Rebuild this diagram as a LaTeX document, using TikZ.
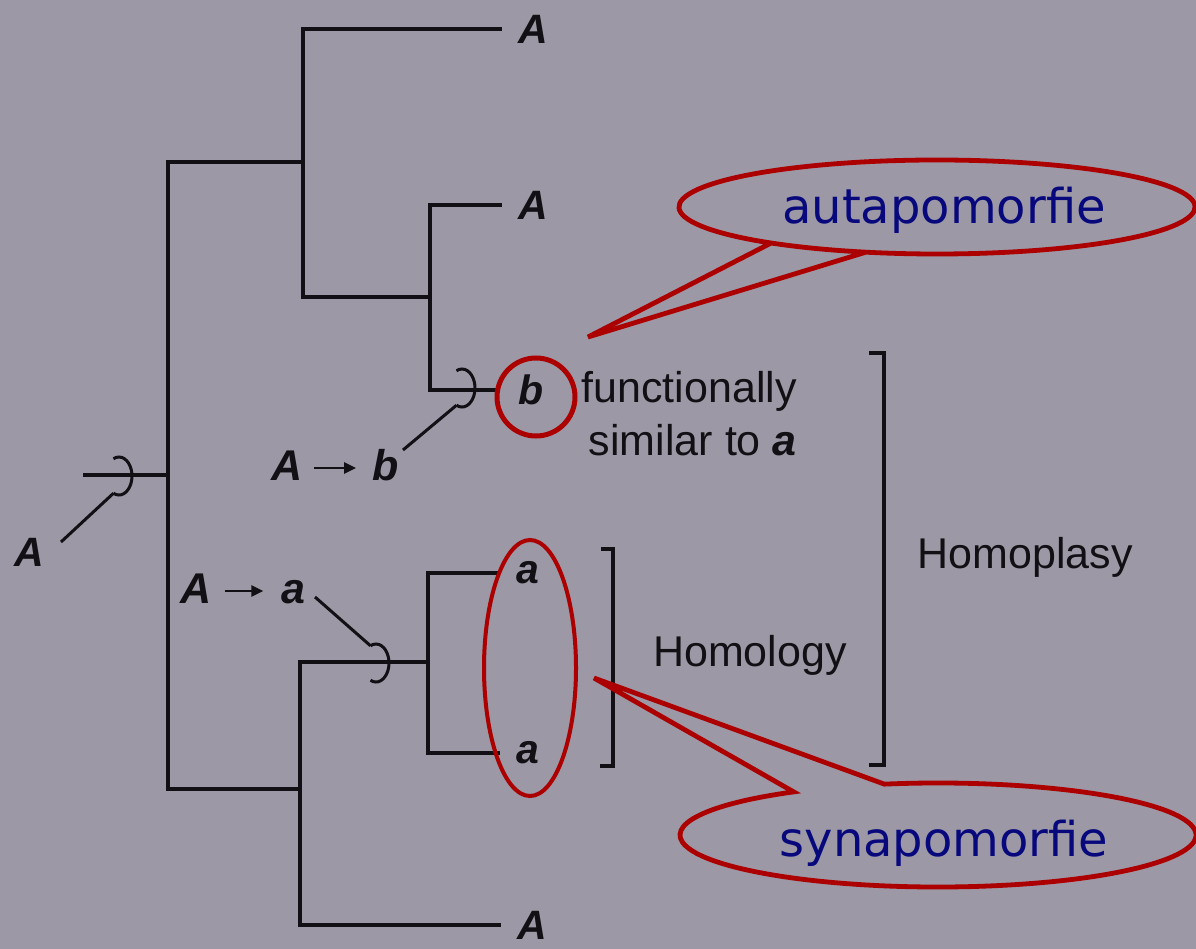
\documentclass[tikz,border=0pt]{standalone}
\usepackage{fontspec}
\setmainfont{Liberation Sans}
\newfontfamily\CallFont{DejaVu Sans}
\usetikzlibrary{calc,shapes.geometric,arrows.meta}
\definecolor{bgc}{RGB}{156,152,165}
\definecolor{ink}{RGB}{18,16,20}
\definecolor{callred}{RGB}{172,0,0}
\definecolor{navy}{RGB}{8,8,125}
\newcommand{\LeafFont}{\fontsize{41}{48}\selectfont\bfseries\itshape}
\newcommand{\LblFont}{\fontsize{43}{53}\selectfont}
\newcommand{\BI}[1]{{\bfseries\itshape #1}}
\begin{document}
\begin{tikzpicture}[x=1pt,y=-1pt,
  tree/.style={line width=3.6pt,draw=ink},
  conn/.style={line width=3pt,draw=ink},
  hookarc/.style={line width=3pt,draw=ink},
  brk/.style={line width=3.2pt,draw=ink},
  arr/.style={line width=2.4pt,draw=ink,-{Triangle[length=12pt,width=11pt]}},
  leaf/.style={font=\LeafFont,text=ink,inner xsep=16pt,inner ysep=0pt},
  lbl/.style={font=\LblFont,text=ink,inner sep=0pt},
  redring/.style={line width=5pt,draw=callred},
  callout/.style={line width=4.8pt,draw=callred,line join=miter},
  calltext/.style={font=\CallFont\fontsize{48}{56}\selectfont,text=navy,inner sep=0pt}
]
\fill[bgc] (0,0) rectangle (1196,949);
\useasboundingbox (0,0) rectangle (1196,949);

% tree junctions
\coordinate (r0) at (83,475);
\coordinate (p0) at (168,475);
\coordinate (pu) at (303,162);
\coordinate (pv) at (430,297);
\coordinate (pl) at (300,789);
\coordinate (pw) at (428,662);

% leaves
\node[leaf] (A1) at (533,29) {A};
\node[leaf] (A2) at (533,205) {A};
\node[leaf,inner xsep=18pt] (Lb) at (531,390) {b};
\node[leaf] (La1) at (528,573) {a};
\node[leaf] (La2) at (528,753) {a};
\node[leaf] (A4) at (532,925) {A};

% tree edges
\draw[tree] (r0) -- (p0);
\draw[tree] (p0) |- (pu);
\draw[tree] (p0) |- (pl);
\draw[tree] (pu) |- (A1);
\draw[tree] (pu) |- (pv);
\draw[tree] (pv) |- (A2);
\draw[tree] (pv) |- (Lb);
\draw[tree] (pl) |- (pw);
\draw[tree] (pl) |- (A4);
\draw[tree] (pw) |- (La1);
\draw[tree] (pw) |- (La2);

% hooks (character-change marks)
\coordinate (h0) at (119,476);
\coordinate (hb) at (462,388);
\coordinate (ha) at (376,663);
\foreach \h in {h0,hb,ha}{
  \draw[hookarc] ($(\h)+(115:13 and 19)$) arc[start angle=115,end angle=-115,x radius=13,y radius=19];
}
\coordinate (h0s) at ($(h0)+(115:13 and 19)$);
\coordinate (hbs) at ($(hb)+(115:13 and 19)$);
\coordinate (has) at ($(ha)+(-115:13 and 19)$);

% state labels
\node[leaf,inner sep=0pt] (LA0) at (29,552) {A};
\node[lbl,anchor=base] (LbA) at (287,480) {\BI{A}};
\node[lbl,anchor=base] (LbB) at (385.5,480) {\BI{b}};
\draw[arr] ([xshift=11pt,yshift=12pt]LbA.base east) -- ([xshift=-16pt,yshift=12pt]LbB.base west);
\node[lbl,anchor=base] (LaA) at (196,603) {\BI{A}};
\node[lbl,anchor=base] (LaB) at (293.5,603) {\BI{a}};
\draw[arr] ([xshift=13pt,yshift=12pt]LaA.base east) -- ([xshift=-18pt,yshift=12pt]LaB.base west);
\coordinate (t0) at (61,542);
\coordinate (tb) at (403,450);
\coordinate (ta) at (315,597);
\draw[conn] (h0s) -- (t0);
\draw[conn] (hbs) -- (tb);
\draw[conn] (has) -- (ta);

% text labels
\node[lbl,align=right,anchor=east] (func) at (797,414) {functionally\\similar to \BI{a}};
\node[lbl] (homol) at (750,655) {Homology};
\node[lbl] (homop) at (1025,557) {Homoplasy};

% brackets
\draw[brk] (601,549) -- (613,549) -- (613,766) -- (600,766);
\draw[brk] (869,353) -- (884,353) -- (884,765) -- (869,765);

% red marks
\node[redring,circle,minimum size=78pt,inner sep=0pt] (ringb) at (536,397) {};
\node[redring,line width=4pt,ellipse,minimum width=92pt,minimum height=256pt,inner sep=0pt] (ringa) at (530,668) {};

% callouts
\coordinate (cau) at (937,207);
\coordinate (tipau) at (588,337);
\draw[callout] ($(cau)+(106:258 and 47)$) arc[start angle=106,end angle=490,x radius=258,y radius=47] -- (tipau) -- cycle;
\node[calltext] (autap) at (944,210) {autapomorfie};

\coordinate (csy) at (938,835);
\coordinate (tipsy) at (594,678);
\draw[callout] ($(csy)+(258:258 and 52)$) arc[start angle=258,end angle=596,x radius=258,y radius=52] -- (tipsy) -- cycle;
\node[calltext] (synap) at (944,843) {synapomorfie};
\end{tikzpicture}
\end{document}
